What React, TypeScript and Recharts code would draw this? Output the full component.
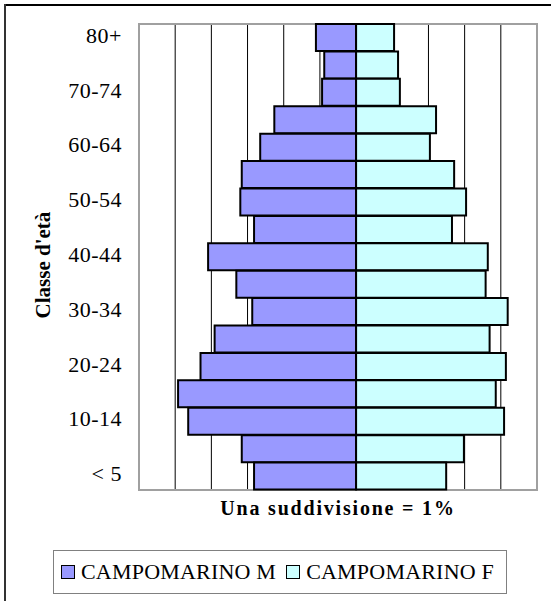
import { BarChart, Bar, XAxis, YAxis, CartesianGrid, ReferenceArea, Legend } from "recharts";

const ageGroups = ["80+", "75-79", "70-74", "65-69", "60-64", "55-59", "50-54", "45-49", "40-44", "35-39", "30-34", "25-29", "20-24", "15-19", "10-14", "5-9", "< 5"];
const maleShare = [1.11, 0.88, 0.94, 2.26, 2.65, 3.16, 3.2, 2.82, 4.09, 3.31, 2.87, 3.91, 4.3, 4.92, 4.64, 3.16, 2.82];
const femaleShare = [1.05, 1.16, 1.21, 2.21, 2.04, 2.71, 3.04, 2.65, 3.64, 3.58, 4.19, 3.69, 4.14, 3.86, 4.09, 2.98, 2.49];
const gridTicks = [-6, -5, -4, -3, -2, -1, 0, 1, 2, 3, 4, 5];

const FONT = "'Liberation Serif', 'Times New Roman', serif";
const MALE = "#9999FF";
const FEMALE = "#CCFFFF";

// males go to the left, so they are stored as negative values
const data = ageGroups.map((age, i) => ({ age, m: -maleShare[i], f: femaleShare[i] }));

const legendItems = [
  { name: "CAMPOMARINO M", color: MALE },
  { name: "CAMPOMARINO F", color: FEMALE },
];

function LegendBox() {
  return (
    <div
      style={{
        boxSizing: "border-box",
        width: 454,
        height: 44,
        border: "1px solid #808080",
        display: "flex",
        alignItems: "center",
        paddingLeft: 7,
        fontFamily: FONT,
        fontSize: 22,
        letterSpacing: 0.2,
        color: "#000",
      }}
    >
      {legendItems.map((it, i) => (
        <span key={it.name} style={{ display: "flex", alignItems: "center", marginRight: i === 0 ? 10 : 0 }}>
          <span
            style={{
              display: "inline-block",
              boxSizing: "border-box",
              width: 14,
              height: 14,
              background: it.color,
              border: "1.5px solid #000",
              marginRight: 6,
            }}
          />
          {it.name}
        </span>
      ))}
    </div>
  );
}

function AgeTick({ x, y, payload }: any) {
  return (
    <text x={x} y={y} dy={5} textAnchor="end" fontFamily={FONT} fontSize={22} letterSpacing={0.5} fill="#000">
      {payload.value}
    </text>
  );
}

export default function App() {
  return (
    <div style={{ position: "absolute", left: 0, top: 0, width: 551, height: 601, background: "#fff", overflow: "hidden" }}>
      <div style={{ position: "absolute", left: 4, top: 4, width: 547, height: 1.5, background: "#000" }} />
      <div style={{ position: "absolute", left: 4, top: 4, width: 1.5, height: 597, background: "#333" }} />
      <BarChart
        width={551}
        height={601}
        data={data}
        layout="vertical"
        stackOffset="sign"
        barCategoryGap={0}
        margin={{ top: 24, right: 14, bottom: 81, left: 0 }}
      >
        <CartesianGrid horizontal={false} vertical stroke="#000" strokeWidth={1} />
        <XAxis
          type="number"
          domain={[-6, 5]}
          ticks={gridTicks}
          tick={() => <g />}
          axisLine={false}
          tickLine={false}
          height={30}
          label={{
            content: ({ viewBox }: any) => (
              <text
                x={viewBox.x + viewBox.width / 2}
                y={viewBox.y + 25}
                textAnchor="middle"
                fontFamily={FONT}
                fontSize={20}
                fontWeight="bold"
                letterSpacing={1.8}
                fill="#000"
              >
                Una suddivisione = 1%
              </text>
            ),
          }}
        />
        <YAxis
          type="category"
          dataKey="age"
          width={139}
          interval={1}
          axisLine={false}
          tickLine={false}
          tickSize={0}
          tickMargin={17}
          tick={<AgeTick />}
          label={{
            content: ({ viewBox }: any) => {
              const cx = 50;
              const cy = viewBox.y + viewBox.height / 2 + 8;
              return (
                <text
                  x={cx}
                  y={cy}
                  transform={`rotate(-90, ${cx}, ${cy})`}
                  textAnchor="middle"
                  fontFamily={FONT}
                  fontSize={21}
                  fontWeight="bold"
                  fill="#000"
                >
                  Classe d'età
                </text>
              );
            },
          }}
        />
        <ReferenceArea x1={-6} x2={5} fill="none" stroke="#A0A0A0" strokeWidth={2} ifOverflow="visible" />
        <Bar dataKey="m" stackId="pop" fill={MALE} stroke="#000" strokeWidth={2} isAnimationActive={false} />
        <Bar dataKey="f" stackId="pop" fill={FEMALE} stroke="#000" strokeWidth={2} isAnimationActive={false} />
        <Legend
          layout="horizontal"
          verticalAlign="middle"
          align="center"
          wrapperStyle={{ left: 53, top: 550, width: 454, height: 44 }}
          content={() => <LegendBox />}
        />
      </BarChart>
    </div>
  );
}
